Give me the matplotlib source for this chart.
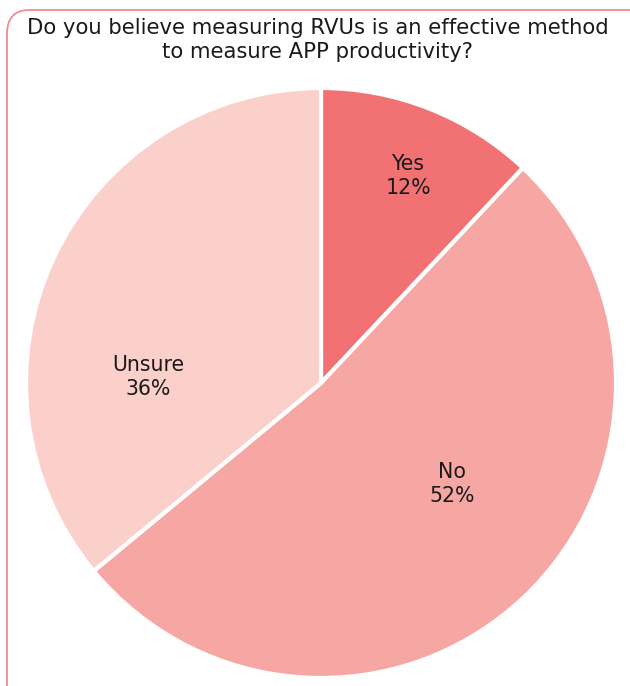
import matplotlib.pyplot as plt
from matplotlib.patches import FancyBboxPatch

labels = ["Yes", "No", "Unsure"]
values = [12, 52, 36]
colors = ["#f27274", "#f7a7a3", "#fbd0ca"]
# label positions in units of radius (placed by hand as in the original)
label_pos = [(0.295, 0.70), (0.444, -0.344), (-0.585, 0.02)]

plt.rcParams["font.family"] = ["DejaVu Sans"]

fig = plt.figure(figsize=(6.3, 6.86), dpi=100)

# rounded border, running off the right and bottom edges
border = FancyBboxPatch((7 / 630, -0.2), 1.2, 1 - 10 / 686 + 0.2,
                        boxstyle="round,pad=0,rounding_size=0.035",
                        transform=fig.transFigure, fill=False,
                        edgecolor="#f08c8c", linewidth=1.3)
fig.patches.append(border)

fig.text(318 / 630, 1 - 40 / 686,
         "Do you believe measuring RVUs is an effective method\nto measure APP productivity?",
         ha="center", va="center", fontsize=15.2, color="#1a1a1a", linespacing=1.25)

ax = fig.add_axes([26 / 630, 8 / 686, 590 / 630, 590 / 686])
ax.pie(values, colors=colors, startangle=90, counterclock=False,
       wedgeprops=dict(edgecolor="white", linewidth=3))
for lab, v, (x, y) in zip(labels, values, label_pos):
    ax.text(x, y, f"{lab}\n{v}%", ha="center", va="center",
            fontsize=14.8, color="#1a1a1a", linespacing=1.25)
ax.set_xlim(-1, 1)
ax.set_ylim(-1, 1)
ax.set_aspect("equal")

plt.savefig("out.png", dpi=100)
